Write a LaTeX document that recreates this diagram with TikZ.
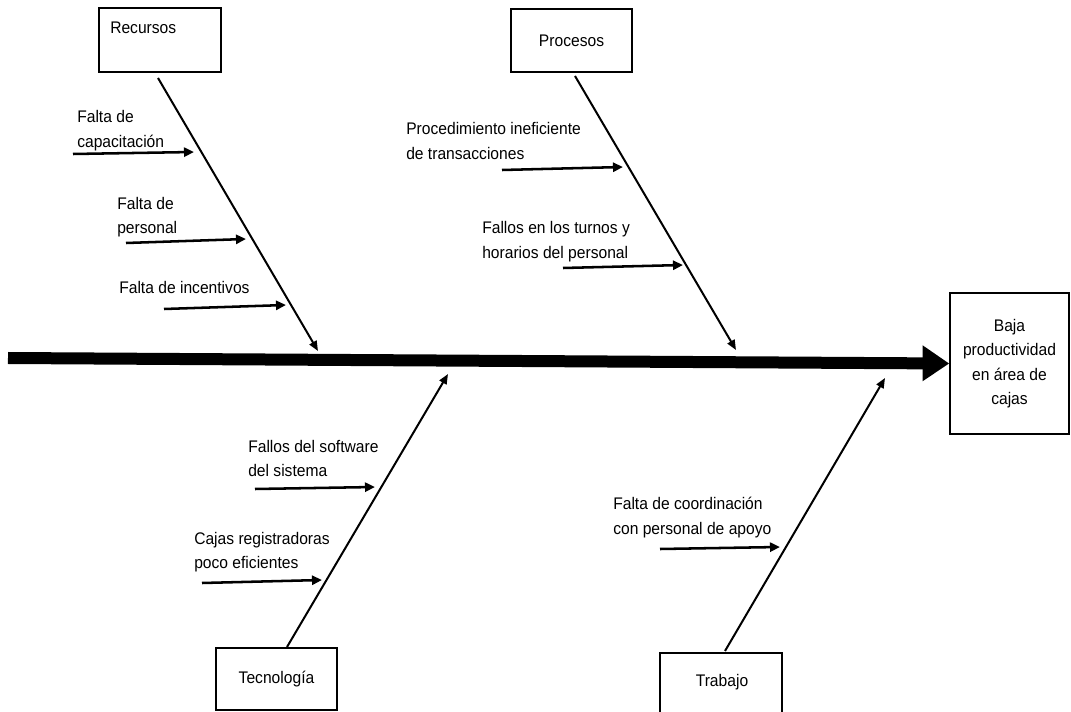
\documentclass[tikz,border=0pt]{standalone}
\usepackage{fontspec}
\setmainfont{Liberation Sans}[FakeStretch=0.93]
\usetikzlibrary{arrows.meta}

\tikzset{
  txt/.style={font=\fontsize{12.6pt}{18.4pt}\selectfont, inner sep=0pt, align=left},
  catbox/.style={draw, line width=1.1pt, fill=white, inner sep=0pt,
                 font=\fontsize{12.6pt}{18.4pt}\selectfont},
  bone/.style={line width=1.5pt, -{Triangle[length=7.5pt,width=6pt]}},
  cause/.style={line width=1.9pt, -{Triangle[length=7.5pt,width=6.8pt]}},
  spine/.style={line width=9pt, -{Triangle[length=20pt,width=25.5pt]}}
}

\begin{document}
\begin{tikzpicture}[x=0.75pt, y=-0.75pt]
  \clip (0,0) rectangle (1071,712);
  \fill[white] (0,0) rectangle (1071,712);

  % effect
  \node[catbox, minimum width=89.25pt, minimum height=105.75pt, align=center]
    (eff) at (1009.5,363.5) {Baja\\productividad\\en área de\\cajas};

  % spine
  \coordinate (tail) at (8,358);
  \draw[spine] (tail) -- (eff.west);

  % category boxes
  \node[catbox, minimum width=91.5pt, minimum height=48pt] (rec) at (160,40) {};
  \node[txt, anchor=west] (recT) at (110,28) {Recursos};
  \node[catbox, minimum width=90.75pt, minimum height=47.25pt] (pro) at (571.5,40.5) {Procesos};
  \node[catbox, minimum width=90.75pt, minimum height=46.5pt] (tec) at (276.5,679) {Tecnología};
  \node[catbox, minimum width=91.5pt, minimum height=54pt] (tra) at (721,689) {};
  \node[txt, anchor=center] (traT) at (722,682) {Trabajo};

  % bone end points
  \coordinate (recS) at (158,78);   \coordinate (recE) at (318,351);
  \coordinate (proS) at (575,76);   \coordinate (proE) at (736,350);
  \coordinate (tecS) at (287,647);  \coordinate (tecE) at (448,374);
  \coordinate (traS) at (725,651);  \coordinate (traE) at (885,378);

  \draw[bone] (recS) -- (recE);
  \draw[bone] (proS) -- (proE);
  \draw[bone] (tecS) -- (tecE);
  \draw[bone] (traS) -- (traE);

  % causes: Recursos
  \node[txt, anchor=west] (c1) at (77,130.5) {Falta de\\capacitación};
  \node[txt, anchor=west] (c2) at (117,217) {Falta de\\personal};
  \node[txt, anchor=west] (c3) at (119,287) {Falta de incentivos};
  \coordinate (a1s) at (73,154);  \coordinate (a1e) at (194,152);
  \coordinate (a2s) at (126,243); \coordinate (a2e) at (246,239);
  \coordinate (a3s) at (164,309); \coordinate (a3e) at (286,305);
  \draw[cause] (a1s) -- (a1e);
  \draw[cause] (a2s) -- (a2e);
  \draw[cause] (a3s) -- (a3e);

  % causes: Procesos
  \node[txt, anchor=west] (c4) at (406,141) {Procedimiento ineficiente\\de transacciones};
  \node[txt, anchor=west] (c5) at (482,241.5) {Fallos en los turnos y\\horarios del personal};
  \coordinate (a4s) at (502,170); \coordinate (a4e) at (623,167);
  \coordinate (a5s) at (563,268); \coordinate (a5e) at (683,265);
  \draw[cause] (a4s) -- (a4e);
  \draw[cause] (a5s) -- (a5e);

  % causes: Tecnología
  \node[txt, anchor=west] (c6) at (248,458.5) {Fallos del software\\del sistema};
  \node[txt, anchor=west] (c7) at (194,552) {Cajas registradoras\\poco eficientes};
  \coordinate (a6s) at (255,489); \coordinate (a6e) at (375,487);
  \coordinate (a7s) at (202,583); \coordinate (a7e) at (322,580);
  \draw[cause] (a6s) -- (a6e);
  \draw[cause] (a7s) -- (a7e);

  % causes: Trabajo
  \node[txt, anchor=west] (c8) at (613,517.5) {Falta de coordinación\\con personal de apoyo};
  \coordinate (a8s) at (660,549); \coordinate (a8e) at (780,547);
  \draw[cause] (a8s) -- (a8e);
\end{tikzpicture}
\end{document}
